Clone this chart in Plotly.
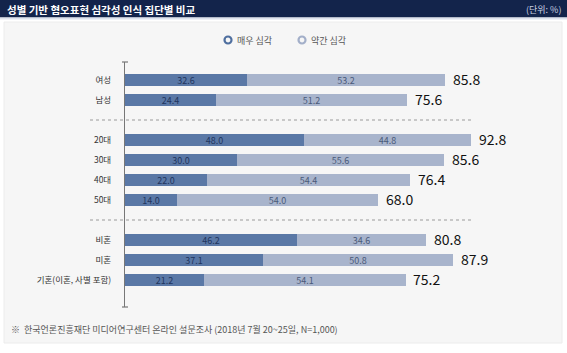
import plotly.graph_objects as go

groups = ["여성", "남성", "20대", "30대", "40대", "50대", "비혼", "미혼", "기혼(이혼, 사별 포함)"]
row_pos = [0, 1, 3, 4, 5, 6, 8, 9, 10]
very = [32.6, 24.4, 48.0, 30.0, 22.0, 14.0, 46.2, 37.1, 21.2]
some = [53.2, 51.2, 44.8, 55.6, 54.4, 54.0, 34.6, 50.8, 54.1]
totals = [85.8, 75.6, 92.8, 85.6, 76.4, 68.0, 80.8, 87.9, 75.2]
separators = [2, 7]
legend_names = ["매우 심각", "약간 심각"]

FONT = "Noto Sans CJK KR"
DARK = "#5a78a6"
LIGHT = "#a8b4cc"

# pixel -> paper helpers (plot area: x 125..535, y 62..307)
L, R, T, B = 125, 535, 62, 307
W, H = 567, 353
def px(x):
    return (x - L) / (R - L)
def py(y):
    return (B - y) / (B - T)

fig = go.Figure()
fig.add_trace(go.Bar(
    y=row_pos, x=very, orientation="h", marker=dict(color=DARK, line=dict(width=0)),
    width=0.56, text=[f"{v:.1f}" for v in very], textposition="inside",
    insidetextanchor="middle", textfont=dict(size=9, color="#1f355e", family=FONT),
    showlegend=False, hoverinfo="skip"))
fig.add_trace(go.Bar(
    y=row_pos, x=some, orientation="h", marker=dict(color=LIGHT, line=dict(width=0)),
    width=0.56, text=[f"{v:.1f}" for v in some], textposition="inside",
    insidetextanchor="middle", textfont=dict(size=9, color="#4a5a7a", family=FONT),
    showlegend=False, hoverinfo="skip"))

shapes = []
# outer panel
shapes.append(dict(type="rect", xref="paper", yref="paper", x0=px(4), x1=px(562), y0=py(343), y1=py(22),
                   fillcolor="#f6f6f6", line=dict(color="#ececec", width=1), layer="below"))
# title bar
shapes.append(dict(type="rect", xref="paper", yref="paper", x0=px(0), x1=px(W), y0=py(17.5), y1=py(0),
                   fillcolor="#13244b", line=dict(width=0), layer="below"))
shapes.append(dict(type="rect", xref="paper", yref="paper", x0=px(0), x1=px(W), y0=py(19.5), y1=py(17.5),
                   fillcolor="#dde3ee", line=dict(width=0), layer="below"))
# separators
for s in separators:
    shapes.append(dict(type="line", xref="paper", yref="y", x0=px(90), x1=px(472), y0=s, y1=s,
                       line=dict(color="#9a9a9a", width=1, dash="dot")))
# axis end caps
for yy in (T, B):
    shapes.append(dict(type="line", xref="paper", yref="paper", x0=px(122), x1=px(128), y0=py(yy), y1=py(yy),
                       line=dict(color="#777777", width=1.2)))
# legend rings
for cx, col in ((228, "#4f6f9f"), (302, "#a3afc9")):
    shapes.append(dict(type="circle", xref="paper", yref="paper", xsizemode="pixel", ysizemode="pixel",
                       xanchor=px(cx), yanchor=py(40), x0=-3.5, x1=3.5, y0=-3.5, y1=3.5,
                       line=dict(color=col, width=2.2), fillcolor="#f6f6f6"))

annotations = [
    dict(text="<b>성별 기반 혐오표현 심각성 인식 집단별 비교</b>", xref="paper", yref="paper",
         x=px(5), y=py(9), xanchor="left", yanchor="middle", showarrow=False,
         font=dict(size=10.5, color="white", family=FONT)),
    dict(text="(단위: %)", xref="paper", yref="paper", x=px(563), y=py(9), xanchor="right",
         yanchor="middle", showarrow=False, font=dict(size=9, color="#c9d1e2", family=FONT)),
    dict(text=legend_names[0], xref="paper", yref="paper", x=px(235), y=py(40), xanchor="left",
         yanchor="middle", showarrow=False, font=dict(size=9, color="#555555", family=FONT)),
    dict(text=legend_names[1], xref="paper", yref="paper", x=px(309), y=py(40), xanchor="left",
         yanchor="middle", showarrow=False, font=dict(size=9, color="#555555", family=FONT)),
    dict(text="※  한국언론진흥재단 미디어연구센터 온라인 설문조사 (2018년 7월 20~25일, N=1,000)",
         xref="paper", yref="paper", x=px(9), y=py(329), xanchor="left", yanchor="middle",
         showarrow=False, font=dict(size=9, color="#555555", family=FONT)),
]
for yv, tv in zip(row_pos, totals):
    annotations.append(dict(text=f"{tv:.1f}", xref="x", yref="y", x=tv, y=yv, xanchor="left",
                            yanchor="middle", xshift=6, yshift=1.5, showarrow=False,
                            font=dict(size=14, color="#111111", family=FONT)))

fig.update_layout(
    width=W, height=H, barmode="stack", bargap=0,
    margin=dict(l=L, r=W - R, t=T, b=H - B, pad=0),
    paper_bgcolor="white", plot_bgcolor="rgba(0,0,0,0)",
    font=dict(family=FONT),
    uniformtext=dict(minsize=9, mode="show"),
    shapes=shapes, annotations=annotations, showlegend=False,
    xaxis=dict(range=[0, 110], visible=False, fixedrange=True),
    yaxis=dict(range=[11.35, -0.9], tickvals=row_pos, ticktext=groups, showgrid=False, zeroline=False,
               showline=True, linecolor="#777777", linewidth=1.2, ticks="", ticklabelstandoff=11,
               tickfont=dict(size=8.5, color="#333333", family=FONT), fixedrange=True),
)

fig.write_html("out.html")
